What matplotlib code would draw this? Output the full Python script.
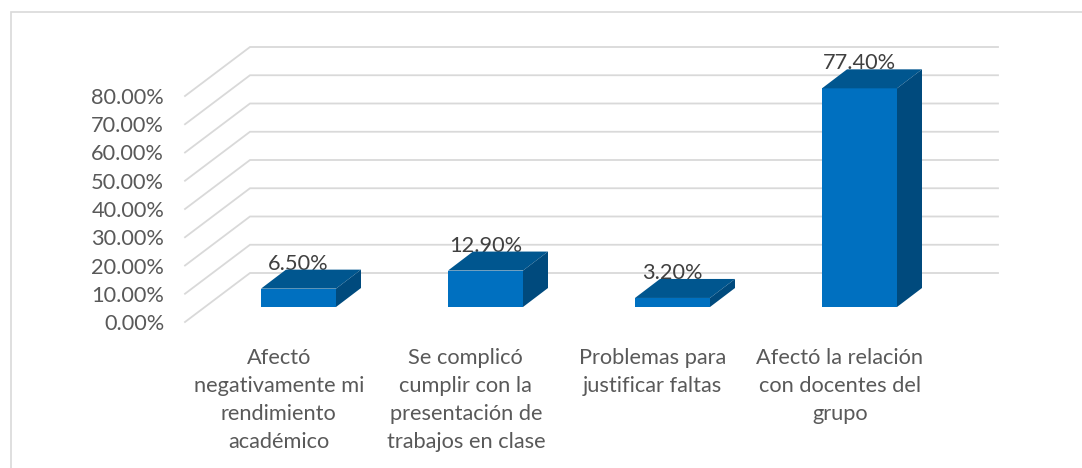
import matplotlib
matplotlib.use("Agg")
import matplotlib.pyplot as plt
from matplotlib.patches import Polygon, Rectangle

categories = [
    "Afectó\nnegativamente mi\nrendimiento\nacadémico",
    "Se complicó\ncumplir con la\npresentación de\ntrabajos en clase",
    "Problemas para\njustificar faltas",
    "Afectó la relación\ncon docentes del\ngrupo",
]
values = [6.5, 12.9, 3.2, 77.4]
y_ticks = [0, 10, 20, 30, 40, 50, 60, 70, 80]

W, H = 1082, 468

# front plane of the 3D box, in pixels
LEFT_PX, RIGHT_PX = 185, 933
BOTTOM_PX, TOP_PX = 322, 96
X_SCALE = 187.0                 # px per category
Y_SCALE = (BOTTOM_PX - TOP_PX) / 80  # px per percent
FIRST_BAR_PX = 298.5

dx_wall = 65 / X_SCALE
dy_wall = 49 / Y_SCALE
dx_bar = 25 / X_SCALE
dy_bar = 19 / Y_SCALE
bar_base = 15 / Y_SCALE
bar_width = 75 / X_SCALE
label_shift = -0.105
FONT_SIZE = 15.7

FRONT = "#0070C0"
TOP = "#00568F"
SIDE = "#004A7D"
GRID = "#D9D9D9"

plt.rcParams["font.family"] = ["Lato", "DejaVu Sans"]

fig = plt.figure(figsize=(W / 100, H / 100), dpi=100)
ax = fig.add_axes([
    LEFT_PX / W,
    1 - BOTTOM_PX / H,
    (RIGHT_PX - LEFT_PX) / W,
    (BOTTOM_PX - TOP_PX) / H,
])
ax.set_xlim((LEFT_PX - FIRST_BAR_PX) / X_SCALE, (RIGHT_PX - FIRST_BAR_PX) / X_SCALE)
ax.set_ylim(0, 80)
ax.patch.set_visible(False)
for spine in ax.spines.values():
    spine.set_visible(False)

x0, x1 = ax.get_xlim()
for v in y_ticks:
    ax.plot(
        [x0, x0 + dx_wall, x1 + dx_wall],
        [v, v + dy_wall, v + dy_wall],
        color=GRID,
        linewidth=1.3,
        clip_on=False,
        zorder=1,
        solid_joinstyle="miter",
    )

for i, v in enumerate(values):
    left = i - bar_width / 2
    right = i + bar_width / 2
    top = bar_base + v

    ax.text(
        i,
        top + dy_bar,
        f"{v:.2f}%",
        ha="center",
        va="baseline",
        fontsize=FONT_SIZE,
        color="#404040",
        zorder=2,
        clip_on=False,
    )
    ax.bar(
        i,
        v,
        width=bar_width,
        bottom=bar_base,
        color=FRONT,
        zorder=3,
        clip_on=False,
    )
    ax.add_patch(Polygon(
        [(left, top), (right, top), (right + dx_bar, top + dy_bar), (left + dx_bar, top + dy_bar)],
        facecolor=TOP,
        edgecolor="none",
        zorder=3,
        clip_on=False,
    ))
    ax.add_patch(Polygon(
        [(right, bar_base), (right + dx_bar, bar_base + dy_bar), (right + dx_bar, top + dy_bar), (right, top)],
        facecolor=SIDE,
        edgecolor="none",
        zorder=3,
        clip_on=False,
    ))

ax.set_yticks(y_ticks)
ax.set_yticklabels([f"{v:.2f}%" for v in y_ticks], fontsize=FONT_SIZE, color="#595959")
ax.set_xticks([i + label_shift for i in range(len(categories))])
ax.set_xticklabels(categories, fontsize=FONT_SIZE, color="#595959", linespacing=1.5, va="top")
ax.tick_params(axis="y", length=0, pad=15)
ax.tick_params(axis="x", length=0, pad=19)

# outer chart frame, runs off the right and bottom edges
frame_top = 1 - 11.5 / H
fig.add_artist(Rectangle(
    (10.5 / W, -0.1),
    1.1,
    frame_top + 0.1,
    transform=fig.transFigure,
    facecolor="none",
    edgecolor=GRID,
    linewidth=1.2,
))

fig.savefig("out.png", dpi=100)
